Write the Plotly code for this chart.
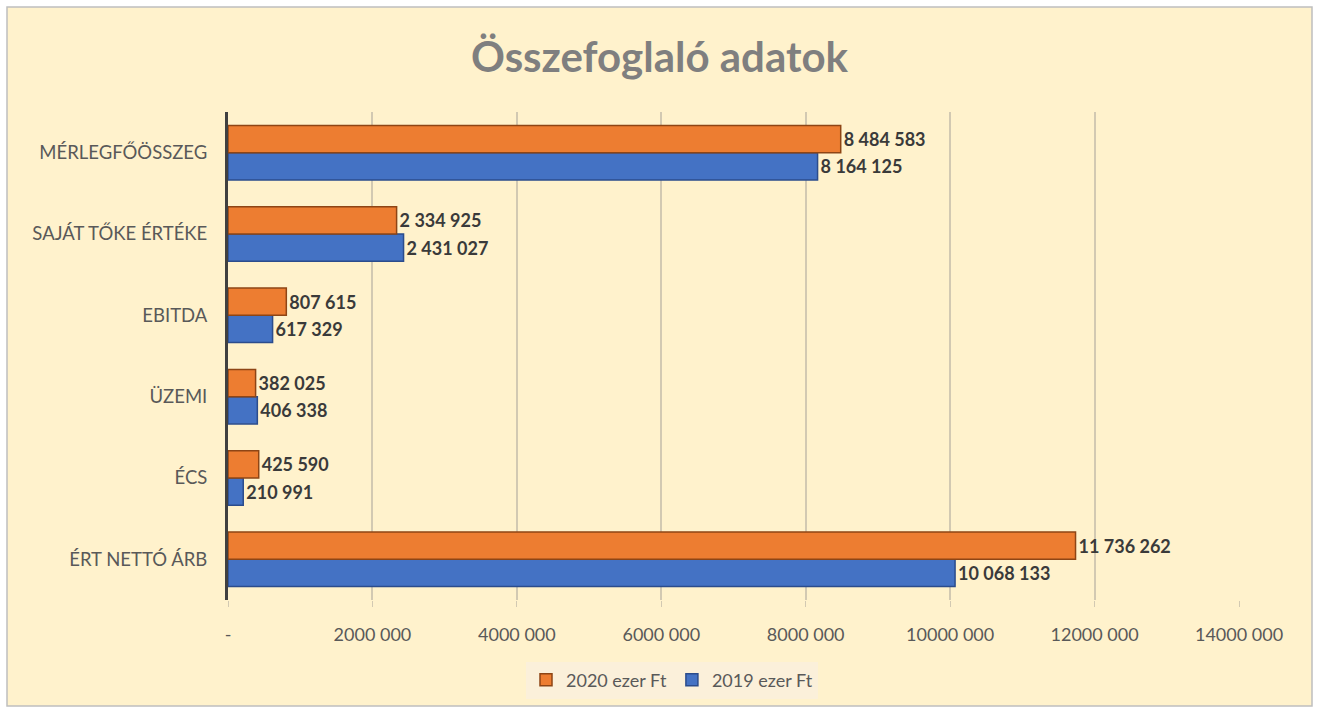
import plotly.graph_objects as go

categories = ["MÉRLEGFŐÖSSZEG", "SAJÁT TŐKE ÉRTÉKE", "EBITDA", "ÜZEMI", "ÉCS", "ÉRT NETTÓ ÁRB"]
values_2020 = [8484583, 2334925, 807615, 382025, 425590, 11736262]
values_2019 = [8164125, 2431027, 617329, 406338, 210991, 10068133]
series_names = ["2020 ezer Ft", "2019 ezer Ft"]
tick_vals = [0, 2000000, 4000000, 6000000, 8000000, 10000000, 12000000, 14000000]
tick_text = ["-", "2000 000", "4000 000", "6000 000", "8000 000", "10000 000", "12000 000", "14000 000"]


def fmt(v):
    return f"{v:,}".replace(",", " ")


FONT = "Lato, 'Open Sans', sans-serif"
CREAM = "#FFF2CC"

fig = go.Figure()
fig.add_trace(go.Bar(
    y=categories, x=values_2019, name=series_names[1], orientation="h",
    marker=dict(color="#4472C4", line=dict(color="#2B4C8C", width=1.5)),
    text=[fmt(v) for v in values_2019], textposition="outside", cliponaxis=False,
    textfont=dict(family=FONT, size=18, color="#3A3A3A", weight="bold"),
))
fig.add_trace(go.Bar(
    y=categories, x=values_2020, name=series_names[0], orientation="h",
    marker=dict(color="#ED7D31", line=dict(color="#8E4515", width=1.5)),
    text=[fmt(v) for v in values_2020], textposition="outside", cliponaxis=False,
    textfont=dict(family=FONT, size=18, color="#3A3A3A", weight="bold"),
))

# background panel with border
fig.add_shape(type="rect", xref="paper", yref="paper",
              x0=(7 - 228) / 1011, x1=(1312 - 228) / 1011,
              y0=(600 - 706) / 488, y1=(600 - 7) / 488,
              fillcolor=CREAM, line=dict(color="#BFBFBF", width=1.5), layer="below")

fig.update_layout(
    width=1319, height=714,
    margin=dict(l=228, r=80, t=112, b=114, autoexpand=False),
    paper_bgcolor="white", plot_bgcolor="rgba(0,0,0,0)",
    barmode="group", bargap=0.33, bargroupgap=0.0,
    font=dict(family=FONT, color="#595959"),
    title=dict(text="<b>Összefoglaló adatok</b>", x=0.5, xref="container", xanchor="center",
               y=1 - 57 / 714, yref="container", yanchor="middle",
               font=dict(family=FONT, size=42, color="#7F7F7F")),
    legend=dict(orientation="h", x=(672 - 228) / 1011, xanchor="center",
                y=(600 - 680) / 488, yanchor="middle", traceorder="reversed",
                bgcolor="#FBF0DA", font=dict(family=FONT, size=18, color="#595959"),
                itemwidth=30),
    xaxis=dict(range=[0, 14000000], tickvals=tick_vals, ticktext=tick_text,
               showgrid=True, gridcolor="#D2C9B2", gridwidth=1.5,
               zeroline=False, showline=False,
               ticks="outside", ticklen=6, tickcolor="#D2C9B2",
               tickfont=dict(family=FONT, size=18, color="#595959"),
               ticklabelstandoff=12),
    yaxis=dict(categoryorder="array", categoryarray=categories[::-1],
               showline=True, linecolor="#404040", linewidth=3,
               showgrid=False, ticks="", ticklabelstandoff=14,
               tickfont=dict(family=FONT, size=18.5, color="#595959")),
)

fig.write_html("out.html", config={"displayModeBar": False},
               post_script="document.body.style.margin='0';")
